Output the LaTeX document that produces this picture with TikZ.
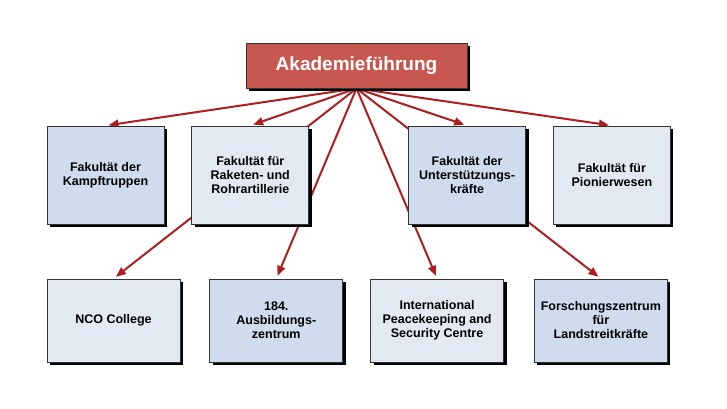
\documentclass[tikz,border=0pt]{standalone}
\usepackage{fontspec}
\setmainfont{Liberation Sans}
\usetikzlibrary{arrows.meta,positioning,shadows,backgrounds}
\definecolor{headred}{RGB}{199,88,80}
\definecolor{arrowred}{RGB}{172,30,34}
\definecolor{boxdark}{RGB}{206,220,238}
\definecolor{boxlight}{RGB}{226,233,243}
\tikzset{%
  box/.style={draw=black!80,line width=0.8pt,align=center,inner sep=2pt,
    font=\fontsize{12.5}{14}\selectfont\bfseries,
    drop shadow={shadow xshift=3pt,shadow yshift=-3pt,fill=black,opacity=1}},
  arrow/.style={draw=arrowred,line width=2pt,-{Triangle[length=10pt,width=8pt]},shorten >=3pt}%
}

\begin{document}
\begin{tikzpicture}[
    x=1pt, y=-1pt,
    head/.style={
        box,
        fill=headred,
        text=white,
        minimum width=221pt,
        minimum height=45pt,
        font=\fontsize{19}{22}\selectfont\bfseries
    },
    fac/.style={
        box,
        minimum width=117pt,
        minimum height=98pt
    },
    unit/.style={
        box,
        minimum width=133pt,
        minimum height=83pt
    }
]
\useasboundingbox (0,0) rectangle (727,408);

% Leitung
\node[head] (lead) at (356.5,65.5) {Akademieführung};

% Fakultaeten
\node[fac, fill=boxdark] (kampf) at (105.5,175)
{Fakultät der\\Kampftruppen};

\node[fac, fill=boxlight, right=27pt of kampf] (artill)
{Fakultät für\\Raketen- und\\Rohrartillerie};

\node[fac, fill=boxdark, right=99pt of artill] (unterst)
{Fakultät der\\Unterstützungs-\\kräfte};

\node[fac, fill=boxlight, right=27pt of unterst] (pionier)
{Fakultät für\\Pionierwesen};

% Einrichtungen
\node[unit, fill=boxlight] (nco) at (113.5,320.5)
{NCO College};

\node[unit, fill=boxdark, right=29pt of nco] (ausb)
{184.\\Ausbildungs-\\zentrum};

\node[unit, fill=boxlight, right=27pt of ausb] (ipsc)
{International\\Peacekeeping and\\Security Centre};

\node[unit, fill=boxdark, right=30pt of ipsc] (forsch)
{Forschungszentrum\\für\\Landstreitkräfte};

\begin{scope}[on background layer]
\foreach \target in {kampf,artill,unterst,pionier,nco,ausb,ipsc,forsch}
  \draw[arrow] (lead.south) -- (\target.north);
\end{scope}

\end{tikzpicture}
\end{document}
